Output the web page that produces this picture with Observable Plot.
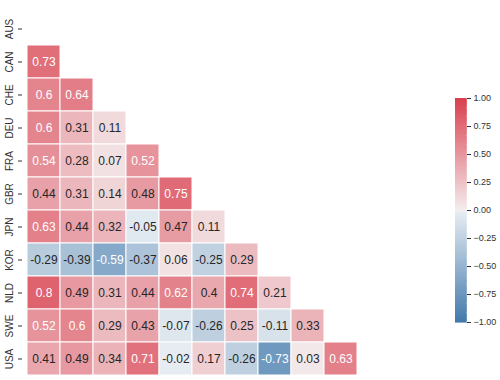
<!DOCTYPE html>
<html>
<head>
<meta charset="utf-8">
<script src="https://cdn.jsdelivr.net/npm/d3@7"></script>
<script src="https://cdn.jsdelivr.net/npm/@observablehq/plot@0.6"></script>
<style>
  html, body { margin: 0; padding: 0; background: #fff; }
  #wrap { position: relative; width: 500px; height: 380px; overflow: hidden; font-family: "Liberation Sans", Arial, sans-serif; }
  #cb { position: absolute; left: 455px; top: 88px; }
</style>
</head>
<body>
<div id="wrap"><div id="main"></div><div id="cb"></div></div>
<script>
const countries = ["AUS","CAN","CHE","DEU","FRA","GBR","JPN","KOR","NLD","SWE","USA"];
// lower-triangle correlation values, row by row (row i has i values)
const rowCAN = [0.73];
const rowCHE = [0.6, 0.64];
const rowDEU = [0.6, 0.31, 0.11];
const rowFRA = [0.54, 0.28, 0.07, 0.52];
const rowGBR = [0.44, 0.31, 0.14, 0.48, 0.75];
const rowJPN = [0.63, 0.44, 0.32, -0.05, 0.47, 0.11];
const rowKOR = [-0.29, -0.39, -0.59, -0.37, 0.06, -0.25, 0.29];
const rowNLD = [0.8, 0.49, 0.31, 0.44, 0.62, 0.4, 0.74, 0.21];
const rowSWE = [0.52, 0.6, 0.29, 0.43, -0.07, -0.26, 0.25, -0.11, 0.33];
const rowUSA = [0.41, 0.49, 0.34, 0.71, -0.02, 0.17, -0.26, -0.73, 0.03, 0.63];
const colorbarTicks = [-1, -0.75, -0.5, -0.25, 0, 0.25, 0.5, 0.75, 1];

const rows = [[], rowCAN, rowCHE, rowDEU, rowFRA, rowGBR, rowJPN, rowKOR, rowNLD, rowSWE, rowUSA];
const cells = [];
rows.forEach((vals, i) => vals.forEach((v, j) => cells.push({row: countries[i], col: countries[j], value: v})));

const colorOpts = {
  type: "linear",
  domain: [-1, -0.004, 0, 0.004, 1],
  range: ["#4279ab", "#e9eef3", "#f2f2f2", "#f4eced", "#d9404f"],
  interpolate: "rgb",
  clamp: true
};
const cscale = Plot.scale({color: colorOpts});
function lum(c) {
  const rgb = d3.rgb(c);
  const f = x => { x /= 255; return x <= 0.03928 ? x / 12.92 : Math.pow((x + 0.055) / 1.055, 2.4); };
  return 0.2126 * f(rgb.r) + 0.7152 * f(rgb.g) + 0.0722 * f(rgb.b);
}
cells.forEach(d => { d.text = lum(cscale.apply(d.value)) < 0.408 ? "#ffffff" : "#262626"; });

const main = Plot.plot({
  width: 500,
  height: 380,
  marginLeft: 22,
  marginTop: 7,
  marginBottom: 0,
  marginRight: 105,
  style: {fontFamily: "Liberation Sans, Arial, sans-serif", background: "#fff"},
  x: {domain: countries, padding: 0, axis: null},
  y: {domain: countries, padding: 0, label: null},
  color: colorOpts,
  marks: [
    Plot.axisY({tickRotate: -90, tickSize: 4, tickPadding: 6, fontSize: 10, color: "#333", tickFormat: d => d, label: null}),
    Plot.cell(cells, {x: "col", y: "row", fill: "value", stroke: "#fff", strokeWidth: 1}),
    Plot.text(cells, {x: "col", y: "row", text: d => String(d.value), fill: "text", fontSize: 12})
  ]
});
document.getElementById("main").appendChild(main);

const step = 0.01;
const stops = d3.range(-1, 1 - 1e-9, step);
const cb = Plot.plot({
  width: 45,
  height: 244,
  marginTop: 10,
  marginBottom: 10,
  marginLeft: 0,
  marginRight: 34,
  style: {fontFamily: "Liberation Sans, Arial, sans-serif", background: "transparent", overflow: "visible"},
  x: {domain: ["cb"], padding: 0, axis: null},
  y: {domain: [-1, 1], label: null},
  color: colorOpts,
  marks: [
    Plot.barY(stops, {x: () => "cb", y1: d => d, y2: d => Math.min(1, d + step), fill: d => d + step / 2, stroke: d => d + step / 2, strokeWidth: 0.6, inset: 0, shapeRendering: "crispEdges"}),
    Plot.axisY({anchor: "right", ticks: colorbarTicks, tickFormat: d3.format(".2f"), tickSize: 4, tickPadding: 3, fontSize: 9, color: "#333", label: null})
  ]
});
document.getElementById("cb").appendChild(cb);
</script>
</body>
</html>
